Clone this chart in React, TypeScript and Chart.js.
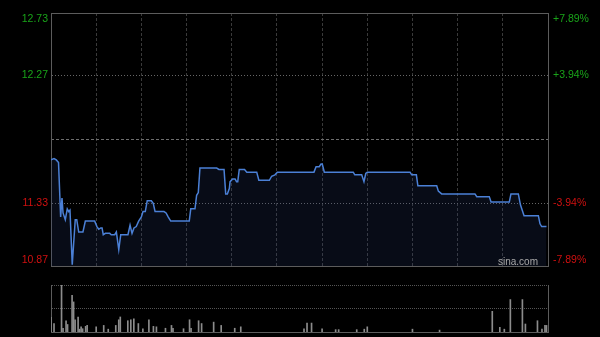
import React, { useEffect, useRef } from 'react';
import { Chart, registerables } from 'chart.js';

Chart.register(...registerables);

// ---- data ----
const prevClose = 11.8;
const priceMin = 10.87;
const priceMax = 12.73;
const priceTicks = [10.87, 11.33, 11.8, 12.27, 12.73];
const priceLabels = ['10.87', '11.33', '', '12.27', '12.73'];
const pctLabels = ['-7.89%', '-3.94%', '', '+3.94%', '+7.89%'];
const timeTicks = [30, 60, 90, 120, 150, 180, 210, 240, 270, 300];
const totalMinutes = 330;

const minutes = [
  0, 2, 3.5, 5, 6.4, 7.3, 8, 9.5, 10.8, 11.8, 12.6, 14.1, 16.1, 17.1, 18.4, 21.2, 22.8, 29, 30.5, 31.7,
  33, 33.9, 34.7, 36.1, 37.4, 39, 40, 42.3, 43.4, 45, 46.3, 51.1, 52.5, 53.8, 55.1, 56.6, 58.2, 60, 61.1, 62.6,
  63.9, 66.6, 67.9, 69.1, 75, 76.4, 77.9, 79.5, 91.8, 92.8, 95.6, 96.7, 97.8, 98.9, 110, 111.5, 114.9, 116, 117.1, 118.4,
  118.9, 120.6, 122.2, 123.2, 124, 125, 128.5, 130, 136.6, 138, 145, 146.5, 148.7, 150.3, 174.6, 176, 178.1, 179.3, 180.1, 181.5,
  200.7, 201.7, 206.3, 207.8, 209, 210, 238.4, 239.5, 242.6, 243.6, 256.1, 257.2, 259.4, 281.5, 282.7, 291, 292.2, 304.3, 305.4, 310.3,
  311.7, 314.1, 323.6, 324.7, 325.8, 329,
];
const prices = [
  11.65, 11.66, 11.65, 11.63, 11.23, 11.37, 11.26, 11.21, 11.29, 11.27, 11.28, 10.88, 11.21, 11.21, 11.12, 11.12, 11.2, 11.2, 11.16, 11.14,
  11.15, 11.15, 11.1, 11.11, 11.11, 11.11, 11.1, 11.1, 11.12, 10.99, 11.1, 11.1, 11.17, 11.11, 11.15, 11.16, 11.2, 11.23, 11.27, 11.27,
  11.35, 11.35, 11.33, 11.27, 11.27, 11.26, 11.23, 11.2, 11.2, 11.29, 11.29, 11.39, 11.41, 11.59, 11.59, 11.58, 11.58, 11.4, 11.4, 11.44,
  11.49, 11.51, 11.51, 11.49, 11.49, 11.58, 11.58, 11.56, 11.56, 11.5, 11.5, 11.53, 11.54, 11.56, 11.56, 11.6, 11.6, 11.62, 11.62, 11.56,
  11.56, 11.54, 11.54, 11.49, 11.55, 11.56, 11.56, 11.54, 11.54, 11.46, 11.46, 11.42, 11.4, 11.4, 11.38, 11.38, 11.34, 11.34, 11.4, 11.4,
  11.32, 11.24, 11.24, 11.18, 11.16, 11.16,
];

const volMinutes = [
  0, 2, 7, 8, 10, 11, 14, 15, 16, 18, 19, 20, 21, 23, 24, 30, 35, 38, 43, 45,
  46, 51, 53, 55, 58, 61, 65, 68, 70, 76, 80, 81, 88, 92, 93, 98, 100, 108, 113, 122,
  126, 168, 170, 173, 180, 189, 191, 203, 208, 210, 240, 258, 293, 298, 301, 305, 313, 315, 323, 326,
  328, 329,
];
const volumes = [
  31, 18, 100, 8, 24, 16, 78, 64, 26, 32, 6, 11, 7, 12, 14, 11, 14, 6, 14, 26,
  32, 24, 26, 28, 18, 7, 26, 12, 11, 8, 14, 8, 7, 26, 8, 24, 18, 21, 14, 8,
  11, 7, 19, 19, 7, 5, 5, 5, 6, 11, 6, 4, 44, 10, 6, 69, 69, 17, 24, 6,
  14, 14,
];
const volumeMax = 100;

// ---- styles ----
const GREEN = '#19a319';
const RED = '#d01010';
const LINE = '#4b80d6';
const FILL = 'rgba(40,62,115,0.2)';
const FRAME = '#5c5c5c';
const FONT = { family: 'Arial, "Liberation Sans", sans-serif', size: 10.5 };

const fitWidth = (w: number) => (s: any) => {
  s.width = w;
  s.paddingTop = 0;
  s.paddingBottom = 0;
};
const fitHeight = (h: number) => (s: any) => {
  s.height = h;
  s.paddingLeft = 0;
  s.paddingRight = 0;
};
const useTicks = (vals: number[]) => (s: any) => {
  s.ticks = vals.map((v) => ({ value: v }));
};
const labelFor = (labels: string[]) => (_v: any, index: number) => {
  const t = labels[index];
  if (!t) return '';
  if (index === 0) return [t, ''];
  if (index === labels.length - 1) return ['', t];
  return t;
};
const tickColor = (c: any) => (c.tick && c.tick.value > prevClose ? GREEN : RED);

export default function App() {
  const mainRef = useRef<HTMLCanvasElement>(null);
  const volRef = useRef<HTMLCanvasElement>(null);

  useEffect(() => {
    const hidden = { display: false };
    const main = new Chart(mainRef.current as HTMLCanvasElement, {
      type: 'line',
      data: {
        datasets: [
          {
            data: minutes.map((m, i) => ({ x: m, y: prices[i] })),
            borderColor: LINE,
            borderWidth: 1.5,
            pointRadius: 0,
            tension: 0,
            fill: 'start',
            backgroundColor: FILL,
          },
        ],
      },
      options: {
        animation: false,
        responsive: false,
        events: [],
        layout: { padding: { top: 13, bottom: 71, left: 0, right: 0 } },
        plugins: { legend: hidden, tooltip: { enabled: false } },
        scales: {
          x: {
            type: 'linear',
            min: 0,
            max: totalMinutes,
            afterBuildTicks: useTicks(timeTicks),
            afterFit: fitHeight(0),
            ticks: { display: false },
            grid: { color: '#3a3a3a', drawTicks: false, lineWidth: 1 },
            border: { display: true, color: FRAME, dash: [3, 2] },
          },
          y: {
            position: 'left',
            min: priceMin,
            max: priceMax,
            afterBuildTicks: useTicks(priceTicks),
            afterFit: fitWidth(51),
            ticks: { callback: labelFor(priceLabels), color: tickColor, font: FONT, padding: 3 },
            grid: {
              drawTicks: false,
              color: (c: any) => (c.index === 1 || c.index === 3 ? '#666' : 'rgba(0,0,0,0)'),
            },
            border: { display: true, color: FRAME, dash: [1, 2] },
          },
          yMid: {
            position: 'left',
            min: priceMin,
            max: priceMax,
            afterBuildTicks: useTicks([prevClose]),
            afterFit: fitWidth(0),
            ticks: { display: false },
            grid: { drawTicks: false, color: '#6e6e6e' },
            border: { display: false, dash: [3, 2] },
          },
          yFrame: {
            position: 'left',
            min: priceMin,
            max: priceMax,
            afterBuildTicks: useTicks([priceMax]),
            afterFit: fitWidth(0),
            ticks: { display: false },
            grid: { drawTicks: false, color: FRAME },
            border: { display: false },
          },
          yR: {
            position: 'right',
            min: priceMin,
            max: priceMax,
            afterBuildTicks: useTicks(priceTicks),
            afterFit: fitWidth(52),
            ticks: { callback: labelFor(pctLabels), color: tickColor, font: FONT, padding: 5 },
            grid: { display: false, drawTicks: false },
            border: { display: true, color: FRAME },
          },
        },
      } as any,
    });

    const vol = new Chart(volRef.current as HTMLCanvasElement, {
      type: 'bar',
      data: {
        datasets: [
          {
            data: volMinutes.map((m, i) => ({ x: m, y: volumes[i] })),
            backgroundColor: '#8c8c8c',
            barThickness: 1,
          },
        ],
      },
      options: {
        animation: false,
        responsive: false,
        events: [],
        layout: { padding: { top: 285, bottom: 5, left: 0, right: 0 } },
        plugins: { legend: hidden, tooltip: { enabled: false } },
        scales: {
          x: {
            type: 'linear',
            min: 0,
            max: totalMinutes,
            offset: false,
            afterFit: fitHeight(0),
            ticks: { display: false },
            grid: { display: false, drawTicks: false },
            border: { display: true, color: FRAME },
          },
          y: {
            position: 'left',
            min: 0,
            max: volumeMax,
            afterBuildTicks: useTicks([volumeMax / 2, volumeMax]),
            afterFit: fitWidth(51),
            ticks: { display: false },
            grid: { drawTicks: false, color: '#555' },
            border: { display: true, color: FRAME, dash: [1, 1] },
          },
          yR: {
            position: 'right',
            min: 0,
            max: volumeMax,
            afterFit: fitWidth(52),
            ticks: { display: false },
            grid: { display: false, drawTicks: false },
            border: { display: true, color: FRAME },
          },
        },
      } as any,
    });

    return () => {
      main.destroy();
      vol.destroy();
    };
  }, []);

  const layer: React.CSSProperties = { position: 'absolute', left: 0, top: 0, display: 'block' };
  return (
    <div style={{ position: 'absolute', left: 0, top: 0, width: 600, height: 337, background: '#000', overflow: 'hidden' }}>
      <canvas ref={mainRef} width={600} height={337} style={layer} />
      <canvas ref={volRef} width={600} height={337} style={layer} />
      <div
        style={{
          position: 'absolute',
          left: 498,
          top: 256,
          color: '#a8a8a8',
          font: '10px Arial, "Liberation Sans", sans-serif',
          lineHeight: '11px',
        }}
      >
        sina.com
      </div>
    </div>
  );
}
